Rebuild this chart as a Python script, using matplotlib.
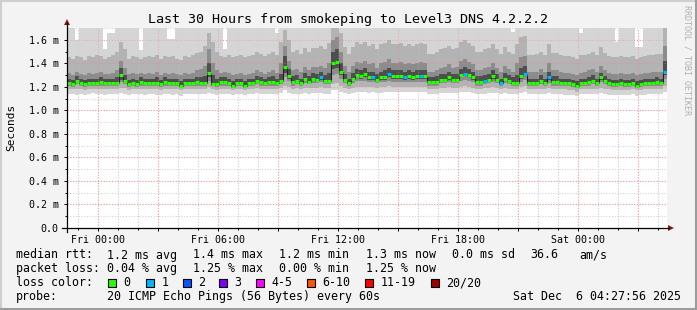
import numpy as np
import matplotlib
matplotlib.use("Agg")
import matplotlib.pyplot as plt
from matplotlib.lines import Line2D
from matplotlib.patches import Rectangle, Polygon

# ---------------- data (milliseconds) ----------------
median_ms = [
    1.23, 1.22, 1.25, 1.23, 1.22, 1.23, 1.23, 1.23, 1.24, 1.23,
    1.23, 1.23, 1.23, 1.30, 1.25, 1.22, 1.23, 1.22, 1.24, 1.23,
    1.23, 1.23, 1.23, 1.22, 1.24, 1.23, 1.23, 1.23, 1.21, 1.23,
    1.23, 1.23, 1.24, 1.23, 1.23, 1.32, 1.22, 1.22, 1.24, 1.24,
    1.23, 1.21, 1.23, 1.23, 1.21, 1.23, 1.23, 1.25, 1.24, 1.23,
    1.24, 1.24, 1.23, 1.25, 1.37, 1.29, 1.24, 1.25, 1.23, 1.27,
    1.24, 1.27, 1.26, 1.28, 1.25, 1.25, 1.40, 1.41, 1.33, 1.26,
    1.23, 1.27, 1.30, 1.29, 1.31, 1.28, 1.28, 1.26, 1.28, 1.28,
    1.31, 1.29, 1.29, 1.29, 1.28, 1.29, 1.28, 1.29, 1.29, 1.29,
    1.24, 1.24, 1.24, 1.26, 1.26, 1.28, 1.26, 1.26, 1.30, 1.31,
    1.30, 1.28, 1.24, 1.24, 1.25, 1.26, 1.29, 1.26, 1.23, 1.27,
    1.25, 1.23, 1.23, 1.29, 1.31, 1.23, 1.23, 1.23, 1.25, 1.23,
    1.28, 1.24, 1.24, 1.23, 1.23, 1.23, 1.22, 1.21, 1.23, 1.23,
    1.24, 1.25, 1.23, 1.28, 1.25, 1.23, 1.22, 1.22, 1.23, 1.22,
    1.22, 1.23, 1.21, 1.22, 1.23, 1.23, 1.23, 1.24, 1.23, 1.33,
]
# steps where 1 of 20 pings was lost
loss_one_steps = [63, 76, 80, 84, 88, 99, 104, 108, 114, 120, 149]

smoke_min = [
    1.14, 1.14, 1.13, 1.14, 1.13, 1.14, 1.15, 1.14, 1.14, 1.13,
    1.14, 1.14, 1.14, 1.15, 1.14, 1.13, 1.14, 1.14, 1.14, 1.13,
    1.14, 1.14, 1.13, 1.13, 1.14, 1.14, 1.13, 1.14, 1.12, 1.14,
    1.14, 1.14, 1.14, 1.14, 1.14, 1.15, 1.14, 1.13, 1.14, 1.14,
    1.14, 1.13, 1.14, 1.14, 1.13, 1.14, 1.14, 1.15, 1.14, 1.14,
    1.14, 1.14, 1.14, 1.15, 1.17, 1.15, 1.14, 1.14, 1.14, 1.15,
    1.14, 1.15, 1.15, 1.15, 1.14, 1.14, 1.17, 1.17, 1.16, 1.15,
    1.14, 1.15, 1.16, 1.16, 1.16, 1.15, 1.16, 1.15, 1.15, 1.16,
    1.16, 1.16, 1.16, 1.16, 1.16, 1.16, 1.16, 1.16, 1.16, 1.16,
    1.14, 1.14, 1.14, 1.15, 1.15, 1.15, 1.15, 1.15, 1.16, 1.16,
    1.16, 1.15, 1.14, 1.14, 1.14, 1.15, 1.15, 1.15, 1.14, 1.15,
    1.14, 1.14, 1.14, 1.15, 1.16, 1.14, 1.14, 1.14, 1.14, 1.14,
    1.15, 1.14, 1.14, 1.14, 1.13, 1.13, 1.13, 1.12, 1.14, 1.14,
    1.14, 1.14, 1.14, 1.15, 1.14, 1.13, 1.13, 1.13, 1.13, 1.13,
    1.13, 1.14, 1.12, 1.13, 1.13, 1.14, 1.14, 1.14, 1.14, 1.16,
]
smoke_p10 = [
    1.18, 1.18, 1.18, 1.18, 1.17, 1.18, 1.18, 1.18, 1.18, 1.18,
    1.18, 1.18, 1.18, 1.19, 1.19, 1.17, 1.18, 1.18, 1.18, 1.18,
    1.18, 1.18, 1.18, 1.17, 1.18, 1.18, 1.18, 1.18, 1.17, 1.18,
    1.18, 1.18, 1.18, 1.18, 1.18, 1.20, 1.18, 1.17, 1.18, 1.18,
    1.18, 1.17, 1.18, 1.18, 1.17, 1.18, 1.18, 1.19, 1.18, 1.18,
    1.18, 1.18, 1.18, 1.19, 1.21, 1.20, 1.18, 1.19, 1.18, 1.19,
    1.19, 1.19, 1.19, 1.20, 1.19, 1.19, 1.22, 1.23, 1.21, 1.19,
    1.18, 1.19, 1.20, 1.20, 1.20, 1.20, 1.20, 1.19, 1.20, 1.20,
    1.21, 1.20, 1.20, 1.20, 1.20, 1.20, 1.20, 1.20, 1.20, 1.20,
    1.18, 1.18, 1.18, 1.19, 1.19, 1.20, 1.19, 1.19, 1.20, 1.21,
    1.20, 1.19, 1.18, 1.18, 1.19, 1.19, 1.20, 1.19, 1.18, 1.19,
    1.18, 1.18, 1.18, 1.20, 1.21, 1.18, 1.18, 1.18, 1.18, 1.18,
    1.19, 1.18, 1.18, 1.18, 1.18, 1.17, 1.17, 1.16, 1.18, 1.18,
    1.18, 1.18, 1.18, 1.19, 1.18, 1.18, 1.17, 1.17, 1.17, 1.17,
    1.17, 1.18, 1.17, 1.17, 1.18, 1.18, 1.18, 1.18, 1.18, 1.21,
]
smoke_p25 = [
    1.21, 1.20, 1.22, 1.21, 1.20, 1.21, 1.21, 1.21, 1.21, 1.21,
    1.21, 1.21, 1.21, 1.24, 1.22, 1.20, 1.21, 1.20, 1.21, 1.21,
    1.21, 1.21, 1.21, 1.20, 1.21, 1.21, 1.21, 1.21, 1.19, 1.21,
    1.21, 1.21, 1.21, 1.21, 1.21, 1.25, 1.21, 1.20, 1.21, 1.21,
    1.21, 1.19, 1.21, 1.21, 1.19, 1.21, 1.21, 1.22, 1.21, 1.21,
    1.21, 1.21, 1.21, 1.22, 1.28, 1.25, 1.21, 1.22, 1.21, 1.23,
    1.22, 1.23, 1.23, 1.24, 1.22, 1.22, 1.30, 1.31, 1.27, 1.23,
    1.21, 1.23, 1.25, 1.25, 1.25, 1.24, 1.24, 1.23, 1.24, 1.24,
    1.25, 1.24, 1.24, 1.24, 1.24, 1.24, 1.24, 1.24, 1.24, 1.24,
    1.21, 1.21, 1.21, 1.23, 1.23, 1.24, 1.23, 1.23, 1.25, 1.26,
    1.25, 1.24, 1.21, 1.21, 1.22, 1.23, 1.24, 1.23, 1.21, 1.23,
    1.22, 1.21, 1.21, 1.24, 1.26, 1.21, 1.21, 1.21, 1.22, 1.21,
    1.23, 1.21, 1.21, 1.21, 1.21, 1.21, 1.20, 1.19, 1.21, 1.21,
    1.21, 1.22, 1.21, 1.24, 1.22, 1.21, 1.20, 1.20, 1.21, 1.20,
    1.20, 1.21, 1.19, 1.20, 1.21, 1.21, 1.21, 1.21, 1.21, 1.27,
]
smoke_p40 = [
    1.22, 1.21, 1.23, 1.22, 1.21, 1.22, 1.22, 1.22, 1.23, 1.22,
    1.22, 1.22, 1.22, 1.26, 1.23, 1.21, 1.22, 1.21, 1.23, 1.22,
    1.22, 1.22, 1.22, 1.21, 1.23, 1.22, 1.22, 1.22, 1.20, 1.22,
    1.22, 1.22, 1.23, 1.22, 1.22, 1.28, 1.21, 1.21, 1.23, 1.23,
    1.22, 1.20, 1.22, 1.22, 1.20, 1.22, 1.22, 1.24, 1.23, 1.22,
    1.23, 1.23, 1.22, 1.24, 1.32, 1.27, 1.23, 1.24, 1.22, 1.25,
    1.23, 1.25, 1.24, 1.26, 1.24, 1.24, 1.35, 1.36, 1.30, 1.24,
    1.22, 1.25, 1.28, 1.27, 1.28, 1.26, 1.26, 1.25, 1.26, 1.26,
    1.28, 1.27, 1.27, 1.27, 1.26, 1.27, 1.26, 1.27, 1.27, 1.27,
    1.23, 1.23, 1.23, 1.25, 1.25, 1.26, 1.25, 1.25, 1.28, 1.29,
    1.28, 1.26, 1.23, 1.23, 1.24, 1.25, 1.27, 1.25, 1.22, 1.25,
    1.24, 1.22, 1.22, 1.27, 1.29, 1.22, 1.22, 1.22, 1.24, 1.22,
    1.26, 1.23, 1.23, 1.22, 1.22, 1.22, 1.21, 1.20, 1.22, 1.22,
    1.23, 1.24, 1.22, 1.26, 1.24, 1.22, 1.21, 1.21, 1.22, 1.21,
    1.21, 1.22, 1.20, 1.21, 1.22, 1.22, 1.22, 1.23, 1.22, 1.30,
]
smoke_p60 = [
    1.27, 1.26, 1.29, 1.27, 1.26, 1.27, 1.27, 1.27, 1.28, 1.27,
    1.27, 1.27, 1.28, 1.36, 1.30, 1.26, 1.27, 1.26, 1.28, 1.27,
    1.27, 1.27, 1.28, 1.26, 1.28, 1.27, 1.27, 1.27, 1.25, 1.27,
    1.27, 1.27, 1.28, 1.28, 1.29, 1.40, 1.30, 1.27, 1.28, 1.28,
    1.27, 1.25, 1.27, 1.27, 1.25, 1.27, 1.27, 1.29, 1.28, 1.27,
    1.28, 1.29, 1.27, 1.31, 1.46, 1.35, 1.29, 1.30, 1.27, 1.32,
    1.29, 1.32, 1.31, 1.33, 1.30, 1.32, 1.50, 1.52, 1.40, 1.31,
    1.27, 1.32, 1.35, 1.34, 1.36, 1.33, 1.33, 1.31, 1.33, 1.34,
    1.36, 1.34, 1.34, 1.34, 1.33, 1.34, 1.33, 1.34, 1.34, 1.34,
    1.28, 1.28, 1.29, 1.31, 1.31, 1.33, 1.31, 1.31, 1.35, 1.37,
    1.35, 1.33, 1.29, 1.29, 1.30, 1.31, 1.34, 1.31, 1.27, 1.32,
    1.30, 1.28, 1.30, 1.36, 1.38, 1.27, 1.27, 1.27, 1.30, 1.27,
    1.33, 1.29, 1.29, 1.27, 1.27, 1.27, 1.26, 1.25, 1.27, 1.27,
    1.28, 1.30, 1.27, 1.32, 1.29, 1.27, 1.26, 1.26, 1.27, 1.26,
    1.26, 1.27, 1.25, 1.26, 1.27, 1.27, 1.27, 1.28, 1.27, 1.42,
]
smoke_p75 = [
    1.32, 1.30, 1.33, 1.31, 1.30, 1.32, 1.31, 1.32, 1.33, 1.31,
    1.31, 1.32, 1.34, 1.42, 1.36, 1.31, 1.32, 1.31, 1.32, 1.31,
    1.32, 1.31, 1.33, 1.30, 1.32, 1.31, 1.32, 1.31, 1.30, 1.32,
    1.31, 1.32, 1.34, 1.35, 1.38, 1.52, 1.40, 1.34, 1.32, 1.33,
    1.32, 1.30, 1.31, 1.32, 1.30, 1.31, 1.32, 1.34, 1.33, 1.31,
    1.33, 1.34, 1.32, 1.40, 1.55, 1.42, 1.34, 1.35, 1.33, 1.37,
    1.34, 1.37, 1.37, 1.38, 1.36, 1.40, 1.60, 1.62, 1.50, 1.38,
    1.33, 1.38, 1.41, 1.40, 1.42, 1.39, 1.40, 1.36, 1.40, 1.41,
    1.44, 1.40, 1.40, 1.41, 1.39, 1.40, 1.39, 1.40, 1.41, 1.40,
    1.33, 1.33, 1.34, 1.36, 1.37, 1.39, 1.36, 1.37, 1.42, 1.44,
    1.41, 1.39, 1.34, 1.34, 1.36, 1.37, 1.40, 1.36, 1.33, 1.38,
    1.35, 1.33, 1.40, 1.45, 1.46, 1.33, 1.33, 1.33, 1.35, 1.33,
    1.40, 1.34, 1.34, 1.33, 1.32, 1.32, 1.31, 1.30, 1.32, 1.33,
    1.34, 1.35, 1.33, 1.38, 1.34, 1.32, 1.31, 1.31, 1.32, 1.31,
    1.31, 1.32, 1.30, 1.31, 1.32, 1.32, 1.33, 1.33, 1.33, 1.55,
]
smoke_p90 = [
    1.45, 1.44, 1.46, 1.45, 1.43, 1.46, 1.45, 1.47, 1.46, 1.44,
    1.45, 1.47, 1.50, 1.58, 1.52, 1.44, 1.46, 1.45, 1.44, 1.45,
    1.46, 1.45, 1.47, 1.44, 1.46, 1.45, 1.46, 1.44, 1.43, 1.46,
    1.45, 1.47, 1.49, 1.50, 1.55, 1.66, 1.58, 1.50, 1.46, 1.45,
    1.47, 1.45, 1.46, 1.47, 1.45, 1.46, 1.47, 1.50, 1.48, 1.46,
    1.48, 1.50, 1.47, 1.58, 1.68, 1.60, 1.50, 1.51, 1.48, 1.53,
    1.50, 1.53, 1.53, 1.55, 1.52, 1.57, 1.72, 1.72, 1.66, 1.54,
    1.48, 1.54, 1.58, 1.56, 1.58, 1.55, 1.56, 1.52, 1.56, 1.57,
    1.60, 1.56, 1.56, 1.57, 1.55, 1.56, 1.55, 1.56, 1.57, 1.56,
    1.48, 1.48, 1.50, 1.52, 1.53, 1.55, 1.52, 1.53, 1.58, 1.60,
    1.57, 1.55, 1.50, 1.50, 1.52, 1.53, 1.56, 1.52, 1.48, 1.54,
    1.50, 1.48, 1.56, 1.62, 1.63, 1.47, 1.47, 1.48, 1.50, 1.47,
    1.56, 1.49, 1.49, 1.47, 1.46, 1.46, 1.45, 1.44, 1.47, 1.47,
    1.48, 1.50, 1.47, 1.54, 1.49, 1.46, 1.45, 1.45, 1.46, 1.45,
    1.45, 1.46, 1.44, 1.45, 1.46, 1.47, 1.47, 1.48, 1.48, 1.70,
]
smoke_max = [
    1.75, 1.75, 1.60, 1.75, 1.75, 1.75, 1.75, 1.75, 1.75, 1.52,
    1.66, 1.66, 1.75, 1.75, 1.75, 1.75, 1.75, 1.75, 1.51, 1.75,
    1.75, 1.75, 1.75, 1.75, 1.75, 1.61, 1.61, 1.75, 1.75, 1.75,
    1.75, 1.75, 1.75, 1.75, 1.75, 1.75, 1.75, 1.75, 1.75, 1.52,
    1.75, 1.75, 1.75, 1.75, 1.75, 1.75, 1.75, 1.75, 1.75, 1.75,
    1.75, 1.75, 1.66, 1.75, 1.75, 1.75, 1.75, 1.75, 1.75, 1.75,
    1.75, 1.75, 1.75, 1.75, 1.75, 1.75, 1.75, 1.75, 1.75, 1.75,
    1.75, 1.75, 1.75, 1.75, 1.75, 1.75, 1.75, 1.75, 1.75, 1.75,
    1.75, 1.75, 1.75, 1.75, 1.75, 1.75, 1.75, 1.75, 1.75, 1.75,
    1.75, 1.75, 1.75, 1.75, 1.75, 1.75, 1.75, 1.75, 1.75, 1.75,
    1.75, 1.75, 1.75, 1.75, 1.75, 1.75, 1.75, 1.75, 1.75, 1.75,
    1.75, 1.67, 1.75, 1.75, 1.75, 1.75, 1.75, 1.75, 1.75, 1.75,
    1.75, 1.75, 1.75, 1.75, 1.75, 1.75, 1.75, 1.75, 1.66, 1.75,
    1.75, 1.75, 1.75, 1.75, 1.75, 1.75, 1.75, 1.58, 1.75, 1.75,
    1.75, 1.75, 1.54, 1.54, 1.75, 1.75, 1.75, 1.75, 1.75, 1.75,
]

x_tick_hours = [0, 6, 12, 18, 24]
x_tick_labels = ["Fri 00:00", "Fri 06:00", "Fri 12:00", "Fri 18:00", "Sat 00:00"]
y_ticks = [0.0, 0.2, 0.4, 0.6, 0.8, 1.0, 1.2, 1.4, 1.6]

loss_labels = ["0", "1", "2", "3", "4-5", "6-10", "11-19", "20/20"]
loss_colors = ["#26ff00", "#00b8ff", "#0059ff", "#7e00ff", "#ff00ff", "#ff5500", "#ff0000", "#a10000"]

title = "Last 30 Hours from smokeping to Level3 DNS 4.2.2.2"
stats_rtt = ["1.2 ms avg", "1.4 ms max", "1.2 ms min", "1.3 ms now", "0.0 ms sd", "36.6", "am/s"]
stats_loss = ["0.04 % avg", "1.25 % max", "0.00 % min", "1.25 % now"]
probe_text = "20 ICMP Echo Pings (56 Bytes) every 60s"
date_text = "Sat Dec  6 04:27:56 2025"

# ---------------- layout ----------------
W, H = 697, 310
MONO = "DejaVu Sans Mono"
fig = plt.figure(figsize=(W / 100, H / 100), dpi=100)
fig.patch.set_facecolor("#f3f3f3")

def fx(px):
    return px / W

def fy(py):
    return 1 - py / H

L, R, T, B = 67, 667, 28, 228
ax = fig.add_axes([fx(L), fy(B), (R - L) / W, (B - T) / H])
ax.set_facecolor("white")

start_h = -(1 + 32 / 60 + 4 / 3600)   # Thu 22:27:56 relative to Fri 00:00
step_h = 0.2
n = len(median_ms)
edges = start_h + step_h * np.arange(n + 1)

def ext(a):
    a = list(a)
    return a + [a[-1]]

ax.set_xlim(start_h, start_h + 30)
ax.set_ylim(0, 1.7)

# grid
minor_col = "#d4d4d4"
major_col = "#f5b3b3"
dot = (0, (1, 1.5))
for h in range(-1, 29):
    if h % 3 != 0:
        ax.axvline(h, color=minor_col, lw=0.8, ls=dot, zorder=0.5)
for v in np.arange(0.1, 1.75, 0.2):
    ax.axhline(v, color=minor_col, lw=0.8, ls=dot, zorder=0.5)
for h in range(0, 29, 3):
    ax.axvline(h, color=major_col, lw=0.8, ls=dot, zorder=0.6)
for v in y_ticks[1:]:
    ax.axhline(v, color=major_col, lw=0.8, ls=dot, zorder=0.6)

# smoke
layers = [
    (smoke_min, smoke_max, "#d5d5d5"),
    (smoke_p10, smoke_p90, "#b3b3b3"),
    (smoke_p25, smoke_p75, "#8c8c8c"),
    (smoke_p40, smoke_p60, "#4e4e4e"),
]
for lo, hi, c in layers:
    ax.fill_between(edges, ext(lo), ext(hi), step="post", color=c, lw=0, zorder=1)

# grid over smoke (rrdtool draws grid on top)
for h in range(-1, 29):
    if h % 3 != 0:
        ax.axvline(h, color="#c8c8c8", lw=0.8, ls=dot, zorder=1.5, alpha=0.35)
for h in range(0, 29, 3):
    ax.axvline(h, color="#f08080", lw=0.8, ls=dot, zorder=1.5, alpha=0.45)
for v in y_ticks[1:]:
    ax.axhline(v, color="#f08080", lw=0.8, ls=dot, zorder=1.5, alpha=0.45)

# median line
ax.step(edges, ext(median_ms), where="post", color="#202020", lw=0.8, zorder=2)
seg_colors = [loss_colors[1] if i in loss_one_steps else loss_colors[0] for i in range(n)]
ax.hlines(median_ms, edges[:-1], edges[1:], colors=seg_colors, linewidth=2.2,
          capstyle="butt", zorder=3)

# ticks
ax.set_xticks(list(range(0, 29, 3)))
ax.set_xticklabels([x_tick_labels[x_tick_hours.index(h)] if h in x_tick_hours else ""
                    for h in range(0, 29, 3)])
ax.set_xticks(list(range(-1, 29)), minor=True)
ax.set_yticks(y_ticks)
ax.set_yticklabels(["0.0"] + ["%.1f m" % v for v in y_ticks[1:]])
ax.set_yticks(list(np.arange(0.1, 1.7, 0.2)), minor=True)
ax.tick_params(axis="both", which="major", direction="out", length=2.5, width=0.7,
               labelsize=7.2, colors="black")
ax.tick_params(axis="both", which="minor", direction="out", length=1.5, width=0.7)
ax.tick_params(axis="y", pad=3.5)
ax.tick_params(axis="x", pad=2.5)
for lab in ax.get_xticklabels() + ax.get_yticklabels():
    lab.set_fontfamily(MONO)
for s in ax.spines.values():
    s.set_visible(False)

# axis lines with arrows
fig.add_artist(Line2D([fx(62), fx(669)], [fy(228), fy(228)], color="black", lw=0.9))
fig.add_artist(Line2D([fx(67), fx(67)], [fy(232), fy(23)], color="black", lw=0.9))
fig.add_artist(Polygon([[fx(668), fy(225)], [fx(674), fy(228)], [fx(668), fy(231)]],
                       closed=True, color="#8b1a1a", lw=0))
fig.add_artist(Polygon([[fx(64), fy(25)], [fx(67), fy(19)], [fx(70), fy(25)]],
                       closed=True, color="#8b1a1a", lw=0))

# texts
fig.text(fx(348), fy(19), title, ha="center", va="center", family=MONO, fontsize=9.6)
fig.text(fx(11), fy(127), "Seconds", rotation=90, ha="center", va="center",
         family=MONO, fontsize=8)
fig.text(fx(687), fy(60), "RRDTOOL / TOBI OETIKER", rotation=-90, ha="center",
         va="center", family=MONO, fontsize=6, color="#b0b0b0")

fs = 8.4
rows_y = [255, 268.5, 282.5, 296.5]
fig.text(fx(16), fy(rows_y[0]), "median rtt:", va="center", family=MONO, fontsize=fs)
for xpx, s in zip([107, 193, 279, 366, 452, 530, 579], stats_rtt):
    fig.text(fx(xpx), fy(rows_y[0]), s, va="center", family=MONO, fontsize=fs)
fig.text(fx(16), fy(rows_y[1]), "packet loss:", va="center", family=MONO, fontsize=fs)
for xpx, s in zip([107, 193, 279, 366], stats_loss):
    fig.text(fx(xpx), fy(rows_y[1]), s, va="center", family=MONO, fontsize=fs)
fig.text(fx(16), fy(rows_y[2]), "loss color:", va="center", family=MONO, fontsize=fs)
box_x = [108, 146, 183, 219, 256, 307, 365, 431]
for bx, lab, c in zip(box_x, loss_labels, loss_colors):
    fig.add_artist(Rectangle((fx(bx), fy(rows_y[2] + 4)), 8 / W, 8 / H,
                             facecolor=c, edgecolor="black", lw=0.8))
    fig.text(fx(bx + 15.5), fy(rows_y[2]), lab, va="center", family=MONO, fontsize=fs)
fig.text(fx(16), fy(rows_y[3]), "probe:", va="center", family=MONO, fontsize=fs)
fig.text(fx(107), fy(rows_y[3]), probe_text, va="center", family=MONO, fontsize=fs)
fig.text(fx(681), fy(rows_y[3]), date_text, ha="right", va="center", family=MONO, fontsize=fs)

# 3d frame
fig.add_artist(Line2D([0, 1], [fy(1), fy(1)], color="#cfcfcf", lw=1.5))
fig.add_artist(Line2D([fx(1), fx(1)], [0, 1], color="#cfcfcf", lw=1.5))
fig.add_artist(Line2D([0, 1], [fy(308.5), fy(308.5)], color="#9c9c9c", lw=2.2))
fig.add_artist(Line2D([fx(695.5), fx(695.5)], [0, 1], color="#9c9c9c", lw=2.2))

fig.savefig("out.png", dpi=100, facecolor=fig.get_facecolor())
